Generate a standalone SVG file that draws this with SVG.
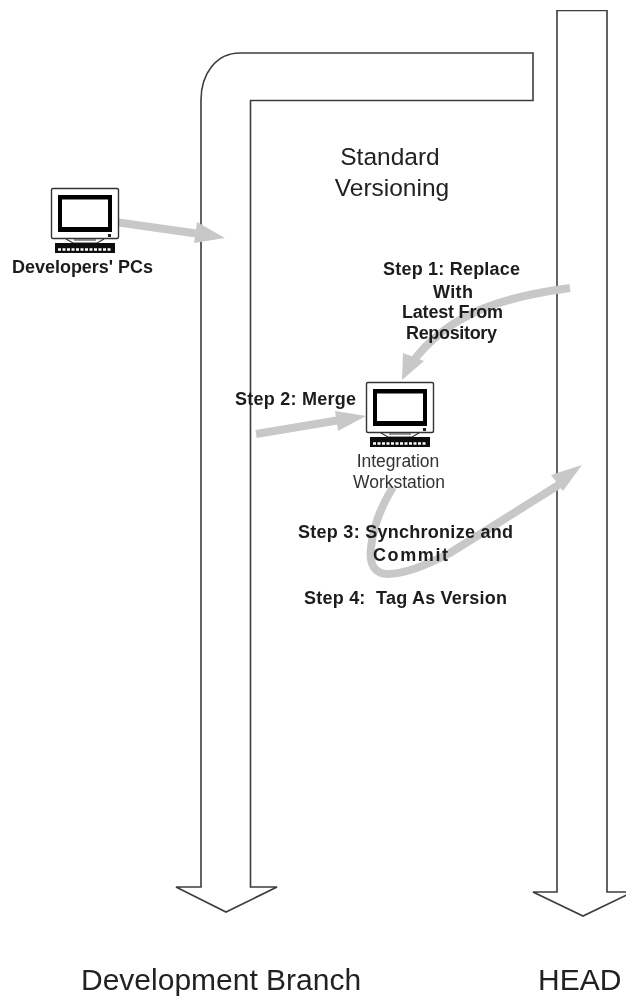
<svg xmlns="http://www.w3.org/2000/svg" width="626" height="999" viewBox="0 0 626 999">
<style>
.lane{fill:#fff;stroke:#3c3c3c;stroke-width:1.6}
.flow{fill:none;stroke:#c8c8c8;stroke-width:8}
.head{fill:#c8c8c8;stroke:none}
text{font-family:"Liberation Sans",Arial,sans-serif;fill:#111}
.step{font-size:18px;font-weight:700;fill:#1c1c1c}
.big{font-size:30px;fill:#222}
.mid{font-size:24.5px;text-anchor:middle;fill:#222}
.cap{font-size:17.5px;text-anchor:middle;fill:#333}
</style>
<defs>
<g id="pc">
<rect x="51.5" y="188.5" width="67" height="50" rx="1.5" fill="#fff" stroke="#333" stroke-width="1.4"/>
<rect x="58" y="195" width="54" height="37" fill="#000"/>
<rect x="62" y="199.500" width="46" height="27.500" fill="#fff"/>
<rect x="108" y="234" width="3" height="3" fill="#222"/>
<path d="M66 239L73 243H97L104 239M74 240H96" fill="none" stroke="#333" stroke-width="1.2"/>
<rect x="55" y="243" width="60" height="10" fill="#111"/>
<path d="M58 249.500H112" stroke="#fff" stroke-width="2.400" stroke-dasharray="3 1.500"/>
</g>
<filter id="soft" x="0" y="0" width="100%" height="100%"><feGaussianBlur stdDeviation="0.5"/></filter>
</defs>
<g filter="url(#soft)">
<g id="lane-head">
<path class="lane" d="M557 10.500H607V892H633L583 916L533 892H557Z"/>
</g>
<g id="lane-branch">
<path class="lane" d="M201 887V100C201 74 216 53 240 53H533V100.500H250.500V887H277L226 912L176 887Z"/>
</g>
<g id="connectors">
<path class="flow" d="M115 222L200 234"/>
<path class="head" d="M197 222L225 238L194 243Z"/>
<path class="flow" d="M570 288C510 296 450 310 411 364"/>
<path class="head" d="M402 380L403 353L424 361Z"/>
<path class="flow" d="M256 434L340 420"/>
<path class="head" d="M366 416L335 411L338 431Z"/>
<path class="flow" d="M393 487C382 505 373 525 371 548C369 565 375 574 388 574C405 574 425 566 450 553L565 481"/>
<path class="head" d="M582 465L551 475L563 491Z"/>
</g>
<g id="label-standard">
<text class="mid" x="390" y="165">Standard</text>
<text class="mid" x="392" y="196">Versioning</text>
</g>
<g id="node-developers">
<use href="#pc"/>
<text x="12" y="273" class="step" textLength="141">Developers' PCs</text>
</g>
<g id="node-integration">
<use href="#pc" transform="translate(315 194)"/>
<text class="cap" x="398" y="467">Integration</text>
<text class="cap" x="399" y="488">Workstation</text>
</g>
<g id="labels">
<text class="step" x="383" y="275" textLength="137">Step 1: Replace</text>
<text class="step" x="433" y="298" textLength="40">With</text>
<text class="step" x="402" y="318" textLength="101">Latest From</text>
<text class="step" x="406" y="339" textLength="91">Repository</text>
<text class="step" x="235" y="405" textLength="121">Step 2: Merge</text>
<text class="step" x="298" y="538" textLength="215">Step 3: Synchronize and</text>
<text class="step" x="373" y="561" textLength="75">Commit</text>
<text class="step" x="304" y="604" textLength="203" xml:space="preserve">Step 4:  Tag As Version</text>
</g>
<g id="lane-labels">
<text class="big" x="81" y="990">Development Branch</text>
<text class="big" x="538" y="990">HEAD</text>
</g>
</g>
</svg>
